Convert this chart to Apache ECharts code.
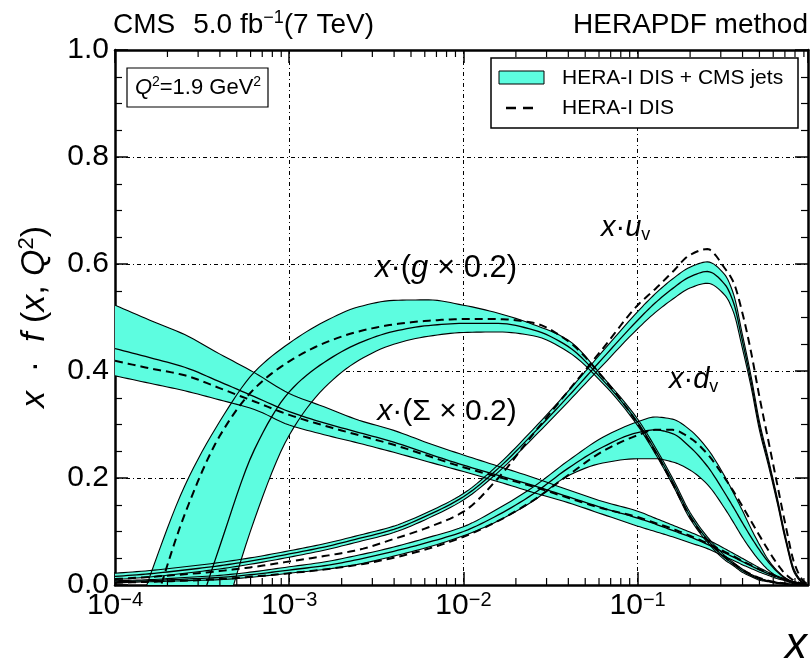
<!DOCTYPE html>
<html>
<head>
<meta charset="utf-8">
<script src="https://cdn.jsdelivr.net/npm/echarts@6/dist/echarts.min.js"></script>
<style>
html,body{margin:0;padding:0;background:#fff;}
#c{width:811px;height:666px;}
</style>
</head>
<body>
<div id="c"></div>
<script>
// ---- data (log10 x grid and PDF values) ----
const logX = [-4,-3.8,-3.6,-3.4,-3.2,-3.0,-2.8,-2.6,-2.4,-2.2,-2.0,-1.8,-1.6,-1.4,-1.2,-1.0,-0.9,-0.8,-0.7,-0.6,-0.5,-0.45,-0.4,-0.35,-0.3,-0.25,-0.2,-0.15,-0.1,-0.05,-0.02];

// x*(g*0.2)
const gluonUp   = [-0.18,0.016,0.185,0.305,0.398,0.452,0.492,0.520,0.532,0.533,0.523,0.508,0.487,0.458,0.389,0.310,0.258,0.200,0.136,0.090,0.055,0.042,0.030,0.020,0.013,0.008,0.005,0.003,0.001,0,0];
const gluonMid  = [-0.6,-0.35,-0.13,0.071,0.253,0.361,0.416,0.452,0.474,0.485,0.489,0.489,0.477,0.446,0.383,0.304,0.252,0.194,0.130,0.085,0.051,0.039,0.027,0.018,0.011,0.007,0.004,0.002,0.001,0,0];
const gluonLow  = [-1.0,-0.7,-0.4,-0.097,0.122,0.280,0.368,0.420,0.450,0.465,0.472,0.473,0.466,0.436,0.377,0.298,0.246,0.188,0.124,0.080,0.047,0.036,0.024,0.016,0.009,0.006,0.003,0.001,0,0,0];
const gluonDash = [-0.25,-0.065,0.132,0.278,0.367,0.418,0.452,0.474,0.487,0.494,0.497,0.497,0.490,0.456,0.388,0.302,0.250,0.190,0.128,0.084,0.052,0.040,0.029,0.020,0.013,0.008,0.005,0.003,0.001,0,0];

// x*(Sigma*0.2)
const seaUp   = [0.523,0.495,0.468,0.432,0.397,0.358,0.333,0.308,0.289,0.265,0.243,0.222,0.201,0.178,0.156,0.138,0.125,0.112,0.099,0.085,0.068,0.059,0.050,0.041,0.032,0.024,0.017,0.011,0.006,0.002,0];
const seaMid  = [0.442,0.425,0.407,0.380,0.352,0.324,0.303,0.285,0.267,0.245,0.224,0.205,0.186,0.165,0.144,0.125,0.114,0.102,0.090,0.076,0.060,0.052,0.044,0.036,0.028,0.021,0.015,0.009,0.005,0.002,0];
const seaLow  = [0.391,0.377,0.363,0.346,0.328,0.299,0.281,0.265,0.248,0.230,0.212,0.193,0.173,0.154,0.132,0.110,0.100,0.090,0.079,0.068,0.053,0.046,0.038,0.031,0.024,0.018,0.012,0.008,0.004,0.001,0];
const seaDash = [0.419,0.405,0.392,0.368,0.343,0.318,0.298,0.280,0.262,0.241,0.220,0.202,0.184,0.163,0.143,0.127,0.116,0.105,0.092,0.078,0.062,0.054,0.045,0.037,0.029,0.022,0.015,0.010,0.005,0.002,0];

// x*u_v
const uvUp   = [0.022,0.027,0.034,0.042,0.052,0.064,0.077,0.093,0.110,0.137,0.171,0.225,0.291,0.362,0.437,0.511,0.544,0.572,0.594,0.604,0.580,0.544,0.470,0.392,0.304,0.236,0.165,0.089,0.028,0.005,0];
const uvMid  = [0.016,0.021,0.028,0.036,0.046,0.058,0.071,0.087,0.104,0.131,0.165,0.218,0.283,0.352,0.424,0.495,0.527,0.554,0.576,0.586,0.562,0.528,0.458,0.382,0.296,0.230,0.160,0.085,0.025,0.004,0];
const uvLow  = [0.010,0.015,0.022,0.030,0.040,0.052,0.065,0.081,0.098,0.125,0.159,0.211,0.275,0.342,0.411,0.479,0.509,0.534,0.555,0.564,0.542,0.510,0.444,0.372,0.288,0.224,0.155,0.081,0.022,0.003,0];
const uvDash = [0.011,0.015,0.020,0.026,0.034,0.044,0.054,0.066,0.086,0.108,0.137,0.200,0.282,0.362,0.442,0.523,0.553,0.585,0.617,0.628,0.592,0.566,0.510,0.437,0.350,0.270,0.190,0.110,0.040,0.008,0.001];

// x*d_v
const dvUp   = [0.008,0.010,0.014,0.018,0.025,0.034,0.043,0.056,0.071,0.089,0.109,0.143,0.183,0.232,0.276,0.305,0.314,0.310,0.290,0.255,0.203,0.172,0.140,0.106,0.075,0.047,0.027,0.013,0.005,0.001,0];
const dvMid  = [0.006,0.008,0.011,0.014,0.020,0.028,0.036,0.048,0.063,0.080,0.100,0.131,0.170,0.218,0.258,0.285,0.290,0.283,0.258,0.222,0.172,0.145,0.117,0.090,0.065,0.043,0.025,0.012,0.004,0.001,0];
const dvLow  = [0.004,0.006,0.008,0.010,0.015,0.022,0.029,0.039,0.054,0.071,0.092,0.120,0.157,0.204,0.228,0.236,0.236,0.230,0.215,0.188,0.143,0.117,0.090,0.066,0.045,0.028,0.016,0.008,0.002,0,0];
const dvDash = [0.004,0.006,0.008,0.011,0.016,0.022,0.029,0.038,0.051,0.068,0.090,0.120,0.158,0.205,0.250,0.280,0.290,0.290,0.275,0.245,0.200,0.175,0.148,0.120,0.092,0.065,0.040,0.020,0.008,0.002,0];

const yTicks = [0, 0.2, 0.4, 0.6, 0.8, 1.0];
const xMin = 1e-4, xMax = 0.95;

// ---- build ----
const X = logX.map(l => Math.pow(10, l));
const CYAN = '#5DFDE0';
const FONT = 'Liberation Sans, Arial, sans-serif';

const bands = [
  {name: 'x·(g×0.2)', up: gluonUp, low: gluonLow},
  {name: 'x·(Σ×0.2)', up: seaUp, low: seaLow},
  {name: 'x·u_v', up: uvUp, low: uvLow},
  {name: 'x·d_v', up: dvUp, low: dvLow}
];
const mids = [gluonMid, seaMid, uvMid, dvMid];
const dashes = [gluonDash, seaDash, uvDash, dvDash];

// minor tick positions of the log axis (2..9 x 10^n)
const minorX = [];
for (let e = -4; e <= -1; e++) for (let m = 2; m <= 9; m++) { const v = m * Math.pow(10, e); if (v < xMax) minorX.push(v); }

// monotone cubic smoothing in pixel space (rendering only)
function smoothPts(p, n) {
  n = n || 8;
  const m = p.length;
  if (m < 3) return p.slice();
  const dx = [], s = [];
  for (let i = 0; i < m - 1; i++) { dx[i] = p[i+1][0] - p[i][0]; s[i] = (p[i+1][1] - p[i][1]) / dx[i]; }
  const t = [s[0]];
  for (let i = 1; i < m - 1; i++) {
    if (s[i-1] * s[i] <= 0) t[i] = 0;
    else t[i] = 3 * (dx[i-1] + dx[i]) / ((2*dx[i] + dx[i-1]) / s[i-1] + (dx[i] + 2*dx[i-1]) / s[i]);
  }
  t[m-1] = s[m-2];
  const out = [];
  for (let i = 0; i < m - 1; i++) {
    const h = dx[i];
    for (let k = 0; k < n; k++) {
      const u = k / n, u2 = u*u, u3 = u2*u;
      const h00 = 2*u3 - 3*u2 + 1, h10 = u3 - 2*u2 + u, h01 = -2*u3 + 3*u2, h11 = u3 - u2;
      out.push([p[i][0] + u*h, h00*p[i][1] + h10*h*t[i] + h01*p[i+1][1] + h11*h*t[i+1]]);
    }
  }
  out.push(p[m-1]);
  return out;
}

function fmtX(v) {
  const lg = Math.log10(v);
  const e = Math.round(lg);
  if (Math.abs(lg - e) > 1e-6) return '';
  return '{b|10}{e|' + (e < 0 ? '\u2212' + (-e) : String(e)) + '}';
}

const gridLine = {show: true, lineStyle: {color: '#000', width: 1, type: [4, 3, 1, 3]}};

const series = [];

// uncertainty bands (HERA-I DIS + CMS jets): fill, drawn from [x, lower, upper]
bands.forEach(b => series.push({
  type: 'custom', name: b.name + ' band', coordinateSystem: 'cartesian2d',
  xAxisIndex: 0, yAxisIndex: 0, clip: true, silent: true, z: 2,
  data: X.map((x, i) => [x, b.low[i], b.up[i]]),
  encode: {x: 0, y: [1, 2]},
  renderItem: function (params, api) {
    if (params.dataIndex !== 0) return null;
    const up = smoothPts(X.map((x, i) => api.coord([x, b.up[i]])));
    const lo = smoothPts(X.map((x, i) => api.coord([x, b.low[i]])));
    return {type: 'polygon', shape: {points: up.concat(lo.reverse())}, style: {fill: CYAN, stroke: null}};
  }
}));

// generic curve series (band edges, central values, HERA-I DIS dashed)
function curve(name, vals, style, z) {
  return {
    type: 'custom', name: name, coordinateSystem: 'cartesian2d',
    xAxisIndex: 0, yAxisIndex: 0, clip: true, silent: true, z: z,
    data: X.map((x, i) => [x, vals[i]]),
    encode: {x: 0, y: 1},
    renderItem: function (params, api) {
      if (params.dataIndex !== 0) return null;
      const pts = smoothPts(X.map((x, i) => api.coord([x, vals[i]])));
      return {type: 'polyline', shape: {points: pts}, style: Object.assign({fill: null}, style)};
    }
  };
}
const edgeStyle = {stroke: '#000', lineWidth: 1.1};
const midStyle = {stroke: '#000', lineWidth: 1.3};
const dashStyle = {stroke: '#000', lineWidth: 2, lineDash: [8, 5]};
bands.forEach(b => {
  series.push(curve(b.name + ' upper', b.up, edgeStyle, 3));
  series.push(curve(b.name + ' lower', b.low, edgeStyle, 3));
});
mids.forEach((v, i) => series.push(curve(bands[i].name + ' central', v, midStyle, 4)));
dashes.forEach((v, i) => series.push(curve(bands[i].name + ' HERA-I DIS', v, dashStyle, 5)));

// minor ticks on the log x axis (bottom and top)
series.push({
  type: 'custom', name: 'minorTicks', coordinateSystem: 'cartesian2d',
  xAxisIndex: 0, yAxisIndex: 0, clip: false, silent: true, z: 6,
  data: minorX.map(v => [v, 0]),
  renderItem: function (params, api) {
    const b = api.coord([api.value(0), 0]);
    const t = api.coord([api.value(0), 1]);
    return {type: 'group', children: [
      {type: 'line', shape: {x1: b[0], y1: b[1], x2: b[0], y2: b[1] - 7}, style: {stroke: '#000', lineWidth: 1.2}},
      {type: 'line', shape: {x1: t[0], y1: t[1], x2: t[0], y2: t[1] + 7}, style: {stroke: '#000', lineWidth: 1.2}}
    ]};
  }
});

const axisLineStyle = {show: true, onZero: false, lineStyle: {color: '#000', width: 2.5}};
const tickStyle = {show: true, inside: true, length: 13, lineStyle: {color: '#000', width: 1.5}};

const option = {
  animation: false,
  backgroundColor: '#fff',
  textStyle: {fontFamily: FONT},
  grid: {left: 115, right: 3, top: 50, bottom: 81, containLabel: false, outerBoundsMode: 'none'},
  xAxis: [
    {type: 'log', logBase: 10, min: xMin, max: xMax, position: 'bottom',
     axisLine: axisLineStyle, axisTick: tickStyle,
     axisLabel: {show: true, margin: 5, formatter: fmtX, showMaxLabel: false,
       rich: {b: {fontFamily: FONT, fontSize: 30, color: '#000', lineHeight: 32},
              e: {fontFamily: FONT, fontSize: 20, color: '#000', lineHeight: 12, verticalAlign: 'top'}}},
     splitLine: gridLine},
    {type: 'log', logBase: 10, min: xMin, max: xMax, position: 'top',
     axisLine: axisLineStyle, axisTick: tickStyle, axisLabel: {show: false}, splitLine: {show: false}}
  ],
  yAxis: [
    {type: 'value', min: yTicks[0], max: yTicks[yTicks.length - 1], interval: 0.2, position: 'left',
     axisLine: axisLineStyle, axisTick: tickStyle,
     minorTick: {show: true, splitNumber: 4, length: 7, lineStyle: {color: '#000', width: 1.2}},
     axisLabel: {formatter: v => v.toFixed(1), fontSize: 30, fontFamily: FONT, color: '#000', margin: 6},
     splitLine: gridLine},
    {type: 'value', min: yTicks[0], max: yTicks[yTicks.length - 1], interval: 0.2, position: 'right',
     axisLine: axisLineStyle, axisTick: tickStyle,
     minorTick: {show: true, splitNumber: 4, length: 7, lineStyle: {color: '#000', width: 1.2}},
     axisLabel: {show: false}, splitLine: {show: false}}
  ],
  series: series,
  graphic: [
    // header
    {type: 'text', x: 113, y: 25, z: 100, style: {
      text: '{n|CMS}{g|}{n|5.0 fb}{s|\u22121}{n|(7 TeV)}', align: 'left', verticalAlign: 'middle',
      rich: {n: {fontFamily: FONT, fontSize: 28, fill: '#000', lineHeight: 32},
             g: {width: 18},
             s: {fontFamily: FONT, fontSize: 18, fill: '#000', lineHeight: 12, verticalAlign: 'top'}}}},
    {type: 'text', x: 808, y: 25, z: 100, style: {
      text: 'HERAPDF method', font: '28px ' + FONT, fill: '#000', align: 'right', verticalAlign: 'middle'}},
    // Q2 box
    {type: 'rect', z: 100, shape: {x: 127, y: 68, width: 141, height: 39}, style: {fill: '#fff', stroke: '#000', lineWidth: 1.2}},
    {type: 'text', x: 198, y: 88, z: 101, style: {
      text: '{i|Q}{s|2}{n|=1.9 GeV}{s|2}', align: 'center', verticalAlign: 'middle',
      rich: {n: {fontFamily: FONT, fontSize: 22, fill: '#000', lineHeight: 26},
             i: {fontFamily: FONT, fontSize: 22, fontStyle: 'italic', fill: '#000', lineHeight: 26},
             s: {fontFamily: FONT, fontSize: 14, fill: '#000', lineHeight: 10, verticalAlign: 'top'}}}},
    // legend
    {type: 'rect', z: 100, shape: {x: 491, y: 58, width: 307, height: 70}, style: {fill: '#fff', stroke: '#000', lineWidth: 1.5}},
    {type: 'rect', z: 101, shape: {x: 499, y: 71, width: 45, height: 13}, style: {fill: CYAN, stroke: '#000', lineWidth: 1}},
    {type: 'text', x: 562, y: 78, z: 101, style: {text: 'HERA-I DIS + CMS jets', font: '21px ' + FONT, fill: '#000', align: 'left', verticalAlign: 'middle'}},
    {type: 'line', z: 101, shape: {x1: 506, y1: 108, x2: 538, y2: 108}, style: {stroke: '#000', lineWidth: 2.5, lineDash: [10, 7]}},
    {type: 'text', x: 562, y: 108, z: 101, style: {text: 'HERA-I DIS', font: '21px ' + FONT, fill: '#000', align: 'left', verticalAlign: 'middle'}},
    // curve annotations
    {type: 'text', x: 446, y: 268, z: 100, style: {
      text: '{i|x}{n|\u00b7(}{i|g}{n| \u00d7 0.2)}', align: 'center', verticalAlign: 'middle',
      rich: {n: {fontFamily: FONT, fontSize: 31, fill: '#000'}, i: {fontFamily: FONT, fontSize: 31, fontStyle: 'italic', fill: '#000'}}}},
    {type: 'text', x: 447, y: 412, z: 100, style: {
      text: '{i|x}{n|\u00b7(\u03a3 \u00d7 0.2)}', align: 'center', verticalAlign: 'middle',
      rich: {n: {fontFamily: FONT, fontSize: 30, fill: '#000'}, i: {fontFamily: FONT, fontSize: 30, fontStyle: 'italic', fill: '#000'}}}},
    {type: 'text', x: 601, y: 228, z: 100, style: {
      text: '{i|x}{n|\u00b7}{i|u}{v|v}', align: 'left', verticalAlign: 'middle',
      rich: {n: {fontFamily: FONT, fontSize: 29, fill: '#000', lineHeight: 32}, i: {fontFamily: FONT, fontSize: 29, fontStyle: 'italic', fill: '#000', lineHeight: 32},
             v: {fontFamily: FONT, fontSize: 18, fill: '#000', lineHeight: 12, verticalAlign: 'bottom'}}}},
    {type: 'text', x: 669, y: 380, z: 100, style: {
      text: '{i|x}{n|\u00b7}{i|d}{v|v}', align: 'left', verticalAlign: 'middle',
      rich: {n: {fontFamily: FONT, fontSize: 29, fill: '#000', lineHeight: 32}, i: {fontFamily: FONT, fontSize: 29, fontStyle: 'italic', fill: '#000', lineHeight: 32},
             v: {fontFamily: FONT, fontSize: 18, fill: '#000', lineHeight: 12, verticalAlign: 'bottom'}}}},
    // axis titles
    {type: 'text', x: 35, y: 317, rotation: Math.PI / 2, z: 100, style: {
      text: '{i|x}{n|  \u00b7  }{i|f}{n| (}{i|x}{n|, }{i|Q}{s|2}{n|)}', align: 'center', verticalAlign: 'middle',
      rich: {n: {fontFamily: FONT, fontSize: 34, fill: '#000', lineHeight: 38},
             i: {fontFamily: FONT, fontSize: 34, fontStyle: 'italic', fill: '#000', lineHeight: 38},
             s: {fontFamily: FONT, fontSize: 22, fill: '#000', lineHeight: 14, verticalAlign: 'top'}}}},
    {type: 'text', x: 807, y: 646, z: 100, style: {
      text: 'x', font: 'italic 44px ' + FONT, fill: '#000', align: 'right', verticalAlign: 'middle'}}
  ]
};

const chart = echarts.init(document.getElementById('c'), null, {renderer: 'canvas'});
chart.setOption(option);
</script>
</body>
</html>
